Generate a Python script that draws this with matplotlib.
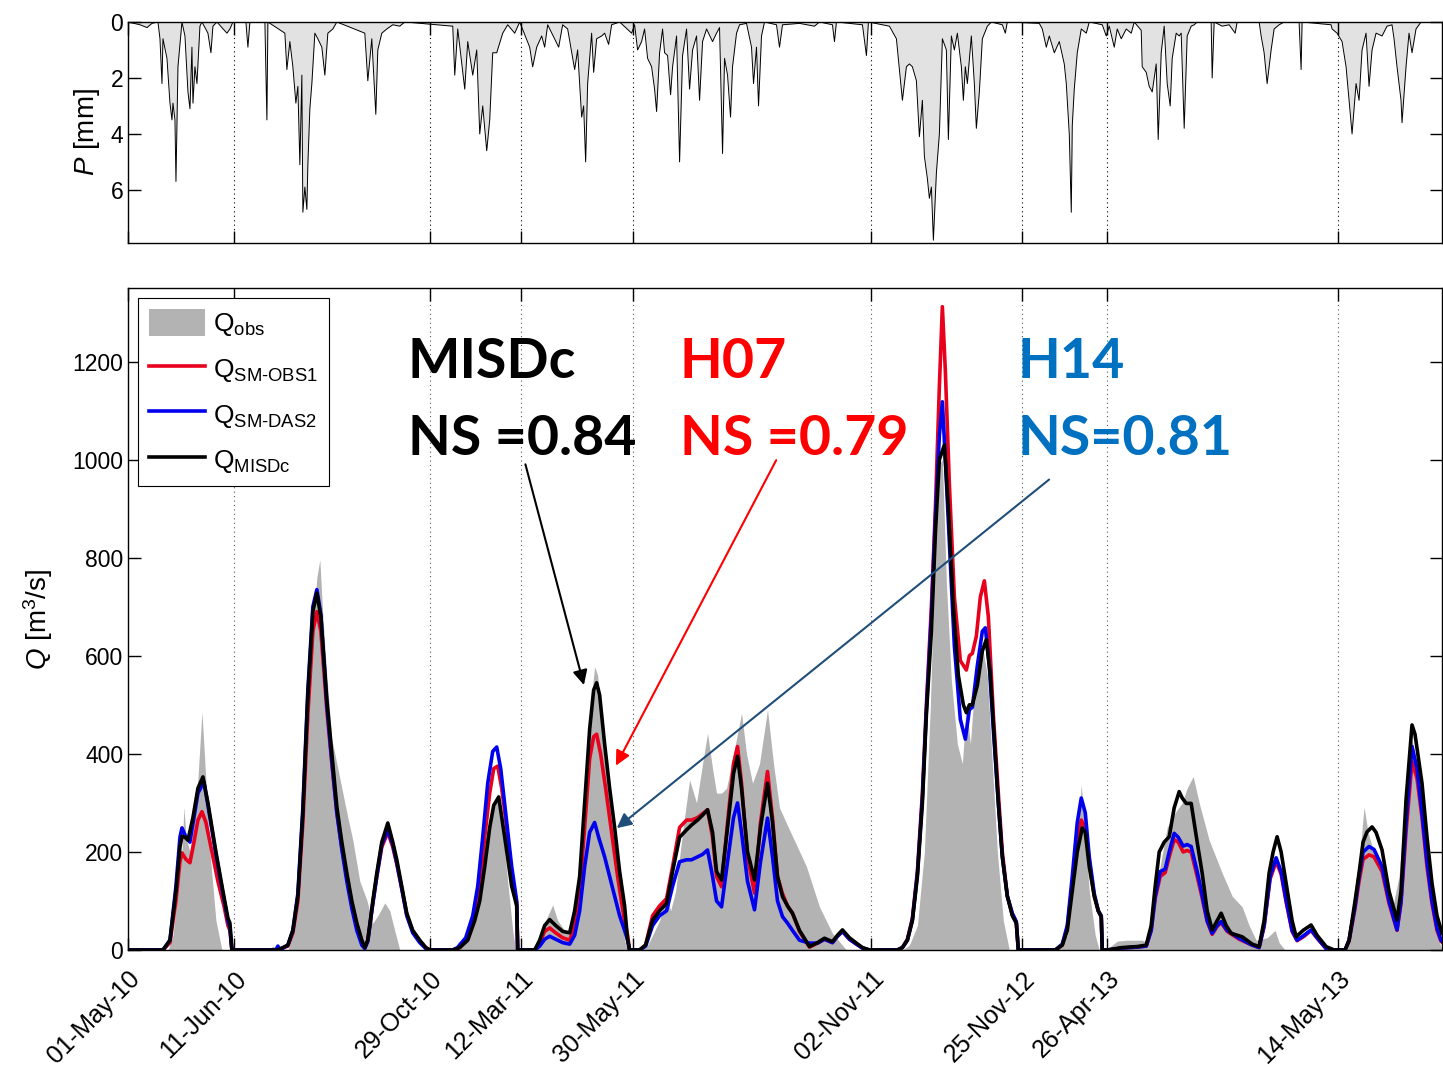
import matplotlib
matplotlib.use("Agg")
import matplotlib.pyplot as plt
from matplotlib.patches import Patch

plt.rcParams['font.family'] = ['Liberation Sans', 'DejaVu Sans']
plt.rcParams['mathtext.fontset'] = 'custom'
plt.rcParams['mathtext.rm'] = 'Liberation Sans'
plt.rcParams['mathtext.it'] = 'Liberation Sans:italic'

# time step index (events concatenated) and tick labels
tick_pos = [0, 106, 302, 393, 505, 744, 895, 980, 1211]
tick_labels = ['01-May-10', '11-Jun-10', '29-Oct-10', '12-Mar-11', '30-May-11',
               '02-Nov-11', '25-Nov-12', '26-Apr-13', '14-May-13']
x_end = 1315

# rainfall P [mm]
p_x = [0, 12, 19, 24, 30, 32, 34, 35, 39, 42, 44, 45, 47, 48, 50, 54, 57, 60, 62, 64,
       65, 67, 69, 72, 74, 80, 83, 85, 89, 99, 102, 105, 118, 120, 122, 137, 139, 140,
       157, 159, 162, 165, 168, 170, 172, 174, 175, 177, 179, 180, 182, 184, 187, 190,
       194, 197, 200, 205, 209, 237, 240, 244, 248, 250, 254, 259, 265, 272, 277, 325,
       327, 330, 337, 340, 345, 349, 352, 355, 359, 362, 365, 369, 375, 380, 387, 392,
       402, 405, 409, 414, 417, 420, 431, 435, 440, 447, 450, 454, 456, 458, 460, 464,
       466, 469, 474, 477, 481, 484, 492, 504, 507, 510, 514, 517, 520, 524, 527, 529,
       532, 535, 537, 540, 543, 545, 549, 552, 555, 559, 562, 565, 569, 572, 575, 579,
       585, 589, 592, 595, 597, 600, 603, 605, 609, 612, 619, 624, 626, 629, 631, 634,
       637, 649, 652, 655, 672, 687, 692, 705, 707, 709, 735, 739, 741, 762, 769, 775,
       779, 782, 785, 789, 792, 795, 797, 800, 802, 804, 806, 809, 812, 815, 819, 821,
       824, 827, 830, 834, 836, 838, 840, 844, 847, 849, 852, 855, 860, 864, 875, 878,
       880, 912, 915, 919, 922, 927, 932, 937, 939, 942, 944, 945, 947, 950, 954, 959,
       962, 975, 979, 982, 987, 990, 994, 999, 1004, 1007, 1014, 1015, 1019, 1022, 1025,
       1029, 1031, 1034, 1037, 1040, 1043, 1045, 1049, 1052, 1054, 1057, 1060, 1064,
       1067, 1070, 1084, 1085, 1087, 1095, 1102, 1108, 1110, 1132, 1134, 1137, 1140,
       1144, 1147, 1152, 1157, 1172, 1174, 1175, 1204, 1205, 1210, 1215, 1219, 1222,
       1225, 1229, 1232, 1235, 1239, 1242, 1245, 1249, 1255, 1260, 1265, 1267, 1270,
       1274, 1275, 1279, 1282, 1285, 1289, 1294, 1315]
p_val = [0, 0.1, 0.2, 0.05, 0, 0.6, 2.2, 0.6, 1.3, 2.9, 3.5, 2.9, 3.5, 5.7, 1.6, 0, 0.5,
         2.5, 3.1, 0.9, 2.9, 1.6, 2.2, 0.15, 0, 0.4, 1.1, 0.15, 0, 0.4, 0.25, 0, 0, 0.9,
         0, 0, 3.5, 0, 0.4, 1.7, 0.7, 1.6, 2.9, 2.3, 5.1, 1.9, 6.8, 5.9, 6.7, 5.1, 3.1,
         2.2, 0.4, 0.6, 0.9, 1.9, 0.4, 0.25, 0, 0.4, 2.1, 0.6, 3.3, 1.0, 0.4, 0.25, 0.1,
         0.15, 0, 0.15, 1.9, 0.25, 2.4, 0.7, 1.9, 1.0, 4.0, 3.0, 4.6, 3.5, 1.1, 1.1, 0.4,
         0.1, 0.4, 0, 0.9, 1.6, 0.9, 0.5, 0.9, 0.1, 0.9, 0.1, 0.25, 1.7, 1.0, 3.4, 3.0,
         5.0, 2.2, 0.4, 1.8, 0.6, 0.5, 0.4, 0.8, 0.1, 0, 0.4, 0.1, 1.0, 0.7, 0.25, 1.3,
         1.6, 2.4, 3.2, 1.1, 0.25, 1.1, 1.2, 2.6, 1.6, 0.5, 5.0, 1.2, 0.25, 2.4, 1.0, 0.5,
         2.8, 0.7, 0.25, 0.7, 0.4, 0.2, 4.7, 1.3, 1.9, 3.4, 1.6, 0.4, 0.1, 0.05, 0.9, 2.2,
         0.9, 3.0, 0.5, 0, 0.1, 0.9, 0.1, 0.05, 0.15, 0, 0.1, 0.7, 0, 0.1, 1.2, 0, 0.15,
         0.6, 2.8, 1.6, 1.5, 1.6, 2.1, 4.1, 2.8, 4.8, 5.6, 6.3, 5.9, 7.8, 5.4, 4.0, 0.6,
         1.0, 4.2, 0.5, 1.0, 0.4, 1.6, 2.8, 1.6, 2.2, 0.5, 2.2, 3.8, 2.5, 0.6, 0.15, 0,
         0.1, 0.4, 0, 0.05, 0.25, 0.9, 0.5, 1.1, 0.7, 1.5, 2.2, 4.0, 6.8, 3.7, 2.4, 1.1,
         0.25, 0.4, 0, 0.1, 0.5, 0.15, 0.9, 0.25, 0.6, 0.25, 0.4, 0, 0.3, 1.6, 1.8, 2.3,
         2.5, 1.5, 4.2, 1.1, 0.15, 2.2, 3.0, 1.3, 0.4, 0.5, 0.4, 3.8, 0.5, 0.15, 0.1, 0,
         0, 2.0, 0, 0.15, 0.1, 0.4, 0, 0, 0.5, 1.1, 2.2, 1.0, 0.25, 0.1, 0, 0, 1.7, 0,
         0.1, 0.25, 0.4, 0.7, 1.6, 2.8, 4.0, 2.2, 2.8, 1.0, 0.4, 2.3, 1.0, 0.4, 0.5, 0.15,
         0.1, 0.6, 1.6, 2.8, 3.6, 1.6, 0.4, 1.1, 0.25, 0, 0]

# observed discharge Q_obs [m3/s]
obs_x = [0, 40, 45, 50, 54, 56, 58, 62, 66, 70, 74, 77, 82, 88, 94,
         106, 140, 145, 150, 160, 165, 170, 175, 180, 185, 189, 192, 195, 199, 204, 212,
         220, 225, 232, 239, 245, 250, 257, 262, 265, 272,
         302, 325, 330, 335, 340, 345, 352, 360, 366, 370, 374, 380, 385, 388,
         393, 405, 412, 418, 425, 430, 437, 442, 448, 455, 462, 467, 470, 476, 482, 487,
         492, 497, 500,
         505, 515, 520, 525, 532, 539, 543, 548, 555, 562, 569, 575, 580, 585, 589, 594,
         599, 606, 614, 619, 625, 632, 640, 646, 652, 662, 670, 679, 692, 705, 719,
         744, 775, 782, 790, 797, 803, 808, 812, 815, 819, 824, 830, 835, 839, 843, 848,
         855, 860, 865, 870, 876, 882,
         895, 930, 940, 948, 952, 954, 957, 962, 968, 972,
         980, 985, 990, 1000, 1015, 1020, 1025, 1032, 1040, 1048, 1055, 1060, 1066, 1072,
         1082, 1095, 1105, 1115, 1122, 1129, 1140, 1148, 1152, 1158,
         1211, 1220, 1228, 1233, 1237, 1241, 1248, 1258, 1266, 1272, 1278, 1285, 1290,
         1297, 1305, 1310, 1315]
obs_q = [0, 0, 30, 120, 200, 292, 230, 200, 260, 350, 486, 380, 200, 60, 0,
         0, 0, 8, 0, 0, 30, 100, 250, 450, 650, 760, 796, 680, 560, 430, 350,
         270, 224, 140, 102, 55, 70, 96, 80, 55, 0,
         0, 0, 15, 25, 20, 60, 150, 250, 300, 320, 260, 140, 40, 0,
         0, 0, 25, 60, 92, 60, 40, 30, 80, 250, 480, 578, 560, 420, 300, 180,
         100, 20, 0,
         0, 0, 10, 30, 60, 116, 80, 120, 240, 347, 300, 380, 442, 370, 320, 320,
         330, 400, 483, 400, 340, 380, 490, 380, 290, 245, 210, 170, 88, 34, 0,
         0, 0, 10, 50, 200, 500, 850, 990, 1000, 750, 550, 420, 380, 500, 420, 560,
         620, 560, 380, 200, 60, 0,
         0, 0, 30, 150, 280, 337, 260, 120, 30, 0,
         0, 10, 18, 20, 20, 15, 40, 160, 250, 280, 300, 330, 354, 300,
         224, 157, 110, 88, 50, 20, 25, 40, 15, 0,
         0, 0, 80, 200, 292, 240, 190, 130, 90, 150, 300, 430, 380,
         250, 120, 30, 0]

# simulated discharge, MISDc (black)
misdc_x = [0, 35, 42, 48, 52, 54, 57, 60, 65, 70, 75, 80, 88, 95, 100, 102, 104,
           150, 160, 165, 170, 175, 180, 185, 189, 193, 199, 204, 209, 214, 219, 224, 229,
           234, 237, 240, 245, 249, 254, 260, 265, 269, 274, 279, 285, 292, 298, 302,
           325, 332, 340, 347, 352, 357, 362, 366, 371, 377, 384, 389, 390,
           393, 407, 412, 417, 422, 428, 435, 442, 447, 452, 457, 462, 466, 469, 472, 477,
           482, 487, 492, 497, 500, 502,
           505, 512, 518, 525, 532, 539, 545, 552, 559, 564, 570, 575, 580, 585, 589, 594,
           600, 606, 610, 614, 620, 627, 633, 640, 645, 650, 655, 660, 665, 672, 682, 690,
           697, 705, 710, 715, 722, 729, 735, 742,
           744, 770, 775, 780, 785, 790, 795, 799, 804, 808, 812, 817, 821, 826, 831, 836,
           839, 842, 845, 850, 855, 859, 863, 867, 871, 875, 880, 885, 889, 891,
           895, 928, 935, 940, 945, 950, 955, 958, 962, 967, 971, 974, 975,
           980, 995, 1010, 1019, 1024, 1028, 1032, 1037, 1042, 1047, 1052, 1055, 1059, 1064,
           1070, 1075, 1080, 1085, 1090, 1094, 1099, 1104, 1115, 1125, 1132, 1137, 1142,
           1146, 1150, 1154, 1159, 1165, 1169, 1176, 1184, 1190, 1199, 1207,
           1211, 1218, 1222, 1228, 1232, 1236, 1240, 1245, 1249, 1255, 1262, 1270, 1274,
           1279, 1285, 1288, 1295, 1300, 1305, 1310, 1315]
misdc_q = [0, 0, 20, 120, 210, 232, 230, 224, 270, 330, 353, 300, 200, 120, 65, 55, 0,
           0, 10, 40, 110, 280, 520, 690, 728, 680, 510, 400, 292, 220, 157, 100, 55,
           20, 5, 20, 100, 157, 220, 259, 220, 184, 130, 75, 40, 20, 5, 0,
           0, 5, 20, 60, 100, 170, 250, 295, 312, 230, 130, 90, 0,
           0, 0, 20, 50, 62, 50, 38, 35, 80, 150, 300, 450, 530, 545, 520, 420,
           330, 250, 160, 90, 20, 0,
           0, 0, 10, 61, 80, 95, 160, 230, 245, 255, 265, 275, 286, 240, 160, 143,
           250, 360, 395, 330, 200, 143, 250, 340, 260, 150, 109, 90, 75, 40, 7, 15,
           24, 17, 30, 41, 25, 14, 5, 0,
           0, 0, 5, 20, 60, 150, 300, 480, 650, 850, 1000, 1030, 900, 700, 560, 500,
           484, 500, 500, 540, 610, 633, 560, 430, 300, 190, 110, 70, 55, 0,
           0, 0, 10, 40, 120, 200, 249, 240, 170, 110, 80, 68, 0,
           0, 5, 7, 10, 50, 130, 200, 220, 231, 290, 323, 310, 299, 299,
           220, 157, 80, 41, 60, 75, 50, 34, 27, 12, 7, 60, 157,
           200, 231, 200, 136, 60, 27, 40, 51, 30, 7, 0,
           0, 0, 20, 100, 157, 220, 241, 251, 240, 204, 120, 61, 120,
           306, 459, 440, 340, 230, 136, 70, 34]

# simulated discharge, SM-OBS1 / H07 (red)
obs1_x = [0, 35, 42, 48, 52, 54, 58, 62, 66, 70, 74, 78, 84, 90, 96, 100, 102, 104,
          150, 160, 165, 170, 175, 180, 185, 189, 193, 199, 204, 209, 214, 219, 224, 229,
          234, 237, 240, 245, 249, 254, 260, 265, 269, 274, 279, 285, 292, 298, 302,
          325, 332, 340, 347, 352, 357, 362, 366, 370, 374, 379, 384, 389, 390,
          393, 407, 412, 417, 422, 428, 435, 442, 447, 452, 457, 462, 466, 469, 473, 478,
          484, 490, 496, 500, 502,
          505, 512, 518, 525, 532, 539, 545, 552, 559, 564, 570, 575, 580, 585, 589, 594,
          600, 606, 610, 614, 620, 627, 633, 640, 645, 650, 655, 660, 665, 672, 682, 690,
          697, 705, 710, 715, 722, 729, 735, 742,
          744, 770, 775, 780, 785, 790, 795, 799, 804, 808, 812, 815, 818, 822, 827, 833,
          839, 842, 845, 849, 853, 857, 861, 866, 871, 875, 880, 885, 889, 891,
          895, 928, 935, 940, 945, 950, 954, 958, 962, 967, 971, 974, 975,
          980, 995, 1010, 1019, 1024, 1028, 1033, 1038, 1042, 1047, 1051, 1056, 1060, 1064,
          1070, 1074, 1080, 1085, 1090, 1094, 1100, 1112, 1125, 1132, 1137, 1143, 1149,
          1154, 1159, 1165, 1170, 1177, 1184, 1190, 1199, 1207,
          1211, 1218, 1222, 1228, 1232, 1236, 1242, 1247, 1255, 1262, 1270, 1274, 1279,
          1285, 1290, 1295, 1300, 1305, 1310, 1314, 1315]
obs1_q = [0, 0, 15, 100, 180, 198, 185, 178, 220, 265, 282, 260, 200, 140, 90, 50, 40, 0,
          0, 8, 35, 100, 260, 480, 650, 690, 650, 490, 380, 280, 210, 150, 95, 50,
          18, 5, 20, 95, 150, 210, 240, 210, 175, 125, 72, 38, 18, 5, 0,
          0, 5, 22, 70, 130, 230, 320, 370, 375, 330, 250, 150, 95, 0,
          0, 0, 15, 38, 45, 35, 25, 20, 50, 120, 250, 390, 435, 440, 400, 330,
          240, 150, 70, 30, 0,
          0, 0, 10, 70, 90, 105, 170, 250, 265, 265, 270, 278, 286, 230, 150, 129,
          260, 380, 415, 340, 190, 116, 260, 364, 270, 150, 115, 90, 75, 38, 6, 14,
          22, 15, 28, 38, 22, 12, 4, 0,
          0, 0, 5, 22, 65, 160, 320, 500, 700, 900, 1150, 1312, 1180, 950, 720, 590,
          571, 600, 605, 640, 720, 753, 680, 480, 320, 200, 110, 72, 55, 0,
          0, 0, 10, 45, 135, 230, 265, 250, 180, 110, 80, 68, 0,
          0, 4, 6, 8, 40, 105, 150, 158, 190, 225, 220, 200, 203, 200,
          150, 115, 58, 32, 48, 56, 38, 22, 10, 5, 48, 145, 180,
          155, 98, 38, 19, 28, 40, 24, 3, 0,
          0, 0, 18, 85, 140, 185, 194, 190, 160, 95, 40, 95, 240,
          384, 350, 270, 170, 95, 40, 18, 16]

# simulated discharge, SM-DAS2 / H14 (blue)
das2_x = [0, 35, 42, 48, 52, 54, 57, 62, 66, 70, 76, 80, 88, 95, 100, 102, 104,
          148, 150, 152, 160, 165, 170, 175, 180, 185, 189, 193, 199, 204, 209, 214, 219,
          224, 229, 234, 237, 240, 245, 249, 254, 260, 265, 269, 274, 279, 285, 292, 298, 302,
          325, 330, 338, 345, 350, 355, 360, 365, 369, 373, 378, 384, 389, 390,
          393, 407, 412, 417, 422, 428, 435, 442, 447, 452, 457, 462, 467, 471, 477, 482,
          487, 492, 497, 500, 502,
          505, 512, 518, 525, 532, 539, 545, 552, 559, 564, 570, 575, 580, 585, 589, 594,
          600, 606, 610, 614, 620, 627, 633, 640, 645, 650, 655, 660, 665, 672, 682, 690,
          697, 705, 710, 715, 722, 729, 735, 742,
          744, 770, 775, 780, 785, 790, 795, 799, 804, 808, 812, 815, 818, 822, 827, 833,
          838, 842, 845, 850, 855, 858, 862, 866, 871, 875, 880, 885, 889, 891,
          895, 928, 935, 940, 945, 950, 954, 958, 962, 967, 971, 974, 975,
          980, 995, 1010, 1019, 1024, 1028, 1033, 1038, 1042, 1047, 1051, 1056, 1060, 1064,
          1070, 1074, 1080, 1085, 1090, 1094, 1100, 1112, 1125, 1132, 1137, 1143, 1149,
          1154, 1159, 1165, 1170, 1177, 1184, 1190, 1199, 1207,
          1211, 1218, 1222, 1228, 1232, 1236, 1242, 1247, 1255, 1262, 1270, 1274, 1279,
          1285, 1290, 1295, 1300, 1305, 1310, 1314, 1315]
das2_q = [0, 0, 20, 130, 230, 249, 235, 220, 270, 320, 343, 295, 195, 115, 60, 45, 0,
          0, 8, 0, 10, 40, 115, 290, 530, 700, 735, 685, 500, 385, 280, 205, 140,
          85, 40, 10, 3, 18, 95, 150, 215, 245, 215, 178, 125, 70, 35, 15, 3, 0,
          0, 5, 25, 70, 130, 230, 340, 405, 414, 370, 280, 170, 100, 0,
          0, 0, 8, 22, 28, 22, 15, 12, 30, 80, 170, 240, 260, 230, 190, 150,
          110, 70, 40, 20, 0,
          0, 0, 8, 50, 70, 80, 130, 180, 184, 184, 190, 195, 204, 150, 100, 88,
          180, 270, 300, 240, 140, 82, 180, 269, 190, 100, 68, 55, 40, 20, 14, 14,
          22, 15, 28, 38, 22, 12, 4, 0,
          0, 0, 5, 20, 62, 155, 310, 490, 680, 880, 1050, 1118, 1000, 830, 620, 470,
          430, 490, 495, 580, 650, 657, 580, 450, 300, 190, 110, 75, 58, 0,
          0, 0, 12, 50, 150, 260, 310, 280, 190, 115, 80, 70, 0,
          0, 4, 6, 8, 40, 110, 160, 165, 200, 238, 230, 212, 215, 211,
          160, 122, 60, 34, 50, 58, 40, 24, 10, 5, 50, 150, 188,
          160, 102, 40, 20, 30, 41, 25, 3, 0,
          0, 0, 20, 90, 150, 200, 211, 205, 170, 100, 41, 100, 260,
          415, 370, 280, 180, 100, 45, 20, 18]

fig = plt.figure(figsize=(14.43, 10.72), dpi=100)
ax1 = fig.add_axes([0.0887, 0.7733, 0.9106, 0.2062])
ax2 = fig.add_axes([0.0887, 0.1138, 0.9106, 0.6175])

# rainfall panel
ax1.fill_between(p_x, p_val, color='#e2e2e2', lw=0)
ax1.plot(p_x, p_val, color='black', lw=0.7)
ax1.set_xlim(0, x_end)
ax1.set_ylim(7.9, 0)
ax1.set_yticks([0, 2, 4, 6])
ax1.set_xticks(tick_pos)
ax1.set_xticklabels([])
ax1.set_ylabel('$\\it{P}$ [mm]', fontsize=20, labelpad=6)
for t in tick_pos[1:]:
    ax1.axvline(t, color='black', lw=0.8, ls=(0, (1, 3)))

# discharge panel
ax2.fill_between(obs_x, obs_q, color='#b3b3b3', lw=0)
ax2.plot(obs1_x, obs1_q, color='#e8001c', lw=2.6)
ax2.plot(das2_x, das2_q, color='#0000ee', lw=2.6)
ax2.plot(misdc_x, misdc_q, color='black', lw=2.6)
ax2.set_xlim(0, x_end)
ax2.set_ylim(0, 1350)
ax2.set_yticks([0, 200, 400, 600, 800, 1000, 1200])
ax2.set_xticks(tick_pos)
ax2.set_xticklabels(tick_labels, rotation=45, ha='right', rotation_mode='anchor',
                    fontsize=18)
ax2.set_ylabel('$\\it{Q}$ [m$^3$/s]', fontsize=20, labelpad=12)
for t in tick_pos[1:]:
    ax2.axvline(t, color='#555555', lw=0.8, ls=(0, (1, 3)), zorder=0)

for ax in (ax1, ax2):
    ax.tick_params(axis='y', direction='in', length=9, width=1, right=True,
                   labelsize=16.5)
    ax.tick_params(axis='x', direction='in', length=9, width=1, top=True, pad=12)
    for s in ax.spines.values():
        s.set_linewidth(1)

handles = [Patch(facecolor='#b3b3b3', edgecolor='none'),
           plt.Line2D([], [], color='#e8001c', lw=2.6),
           plt.Line2D([], [], color='#0000ee', lw=2.6),
           plt.Line2D([], [], color='black', lw=2.6)]
labels = ['Q$_{\\rm obs}$', 'Q$_{\\rm SM\\text{-}OBS1}$', 'Q$_{\\rm SM\\text{-}DAS2}$',
          'Q$_{\\rm MISDc}$']
leg = ax2.legend(handles, labels, loc='upper left', bbox_to_anchor=(0.0076, 0.985),
                 borderaxespad=0, fontsize=19, handlelength=2.15, handleheight=1.25,
                 labelspacing=0.6, handletextpad=0.3, borderpad=0.4, fancybox=False,
                 framealpha=1, edgecolor='black')
leg.get_frame().set_linewidth(0.8)

# model labels
tfont = dict(family='Lato', weight='bold', fontsize=40)
ax2.text(280, 1167, 'MISDc', color='black', **tfont)
ax2.text(280, 1010, 'NS =0.84', color='black', **tfont)
ax2.text(552, 1167, 'H07', color='#ff0000', **tfont)
ax2.text(552, 1010, 'NS =0.79', color='#ff0000', **tfont)
ax2.text(890, 1167, 'H14', color='#0070c0', **tfont)
ax2.text(890, 1010, 'NS=0.81', color='#0070c0', **tfont)

ax2.annotate('', xy=(457, 535), xytext=(397, 996),
             arrowprops=dict(arrowstyle='-|>', color='black', lw=1.5, mutation_scale=22))
ax2.annotate('', xy=(487, 371), xytext=(650, 1004),
             arrowprops=dict(arrowstyle='-|>', color='#ff0000', lw=1.5, mutation_scale=22))
ax2.annotate('', xy=(487, 245), xytext=(924, 963),
             arrowprops=dict(arrowstyle='-|>', color='#1f4e79', lw=1.5, mutation_scale=22))

fig.savefig('out.png', dpi=100)
